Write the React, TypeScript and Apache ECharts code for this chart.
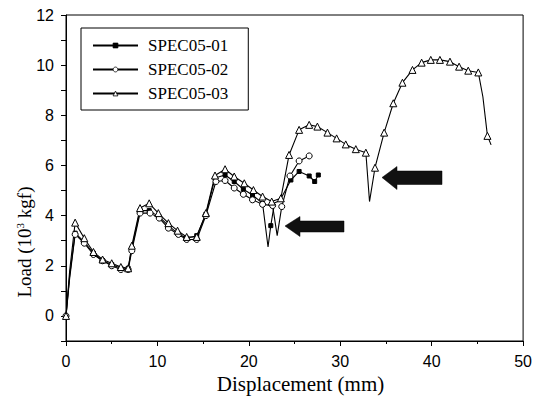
import React, { useEffect, useRef } from "react";
import * as echarts from "echarts";

const seriesNames = ["SPEC05-01", "SPEC05-02", "SPEC05-03"];

const spec01X = [0, 0.4, 1.0, 2.0, 3.0, 4.0, 5.0, 6.0, 6.8, 7.2, 8.1, 9.1, 10.2, 11.2, 12.2, 13.2, 14.3, 15.3, 16.3, 17.4, 18.4, 19.4, 20.4, 21.5, 22.1, 22.4, 22.8, 23.4, 24.6, 25.5, 26.6, 27.2, 27.6];
const spec01Y = [0, 1.6, 3.3, 2.95, 2.5, 2.2, 2.05, 1.9, 1.9, 2.7, 4.2, 4.2, 3.95, 3.6, 3.3, 3.1, 3.2, 4.05, 5.5, 5.62, 5.36, 5.05, 4.82, 4.49, 2.75, 3.6, 4.5, 4.6, 5.42, 5.76, 5.58, 5.36, 5.62];
const spec01NoMarker = [1, 24, 26, 27];

const spec02X = [0, 0.4, 1.0, 2.0, 3.0, 4.0, 5.0, 6.0, 6.8, 7.2, 8.1, 9.2, 10.2, 11.2, 12.3, 13.2, 14.3, 15.3, 16.4, 17.4, 18.4, 19.4, 20.4, 21.5, 22.6, 23.1, 23.6, 24.5, 25.5, 26.6];
const spec02Y = [0, 1.5, 3.25, 2.9, 2.45, 2.2, 2.0, 1.85, 1.85, 2.6, 4.1, 4.1, 3.9, 3.5, 3.25, 3.05, 3.05, 4.0, 5.36, 5.4, 5.1, 4.85, 4.63, 4.45, 4.4, 3.2, 4.36, 5.58, 6.18, 6.38];
const spec02NoMarker = [1, 25];

const spec03X = [0, 0.4, 1.0, 2.0, 3.0, 4.0, 5.0, 6.0, 6.8, 7.2, 8.1, 9.1, 10.1, 11.2, 12.2, 13.2, 14.3, 15.3, 16.3, 17.4, 18.4, 19.5, 20.5, 21.5, 22.5, 23.5, 24.4, 25.5, 26.6, 27.5, 28.6, 29.6, 30.6, 31.7, 32.8, 33.2, 33.8, 34.8, 35.8, 36.8, 37.9, 38.9, 39.9, 40.9, 42.0, 43.0, 44.0, 45.1, 45.6, 46.1, 46.5];
const spec03Y = [0, 1.8, 3.72, 3.1, 2.55, 2.25, 2.1, 1.95, 1.9, 2.8, 4.3, 4.49, 4.1, 3.7, 3.4, 3.15, 3.15, 4.1, 5.6, 5.85, 5.56, 5.29, 5.02, 4.76, 4.56, 4.69, 6.42, 7.42, 7.62, 7.55, 7.31, 7.08, 6.84, 6.65, 6.51, 4.56, 5.91, 7.31, 8.48, 9.3, 9.81, 10.1, 10.21, 10.21, 10.14, 9.94, 9.78, 9.71, 8.74, 7.18, 6.82];
const spec03NoMarker = [1, 35, 48, 50];

const xTickLabels = [0, 10, 20, 30, 40, 50];
const yTickLabels = [0, 2, 4, 6, 8, 10, 12];

function buildData(xs: number[], ys: number[], noMarker: number[]) {
  return xs.map((x, i) =>
    noMarker.includes(i) ? { value: [x, ys[i]], symbol: "none" } : { value: [x, ys[i]] }
  );
}

export default function App() {
  const ref = useRef<HTMLDivElement>(null);

  useEffect(() => {
    if (!ref.current) return;
    const chart = echarts.init(ref.current, null, { renderer: "svg" });
    const serif = "'Liberation Serif', 'Times New Roman', serif";
    const sans = "'Liberation Sans', Arial, sans-serif";
    const lineBase = {
      type: "line",
      lineStyle: { color: "#000", width: 1.1 },
      showSymbol: true,
      z: 3,
    };
    chart.setOption({
      animation: false,
      backgroundColor: "#fff",
      grid: {
        left: 66,
        right: 11,
        top: 15,
        bottom: 64,
        show: true,
        borderColor: "#000",
        borderWidth: 1,
        backgroundColor: "transparent",
      },
      legend: {
        orient: "vertical",
        left: 81,
        top: 28,
        padding: [9, 20, 8, 11],
        itemWidth: 45,
        itemHeight: 6,
        itemGap: 7,
        borderColor: "#000",
        borderWidth: 1,
        backgroundColor: "#fff",
        data: seriesNames,
        itemStyle: { borderWidth: 0.8 },
        textStyle: {
          fontFamily: serif,
          fontSize: 17,
          color: "#000",
          padding: [0, 0, 0, 5],
        },
      },
      xAxis: {
        type: "value",
        min: 0,
        max: 50,
        interval: 10,
        name: "Displacement (mm)",
        nameLocation: "middle",
        nameGap: 29,
        nameTextStyle: { fontFamily: serif, fontSize: 21, color: "#000", padding: [0, 0, 0, 12] },
        axisLine: { show: true, onZero: false, lineStyle: { color: "#000" } },
        axisTick: { show: true, length: 5, lineStyle: { color: "#000" } },
        minorTick: { show: true, splitNumber: 2, length: 3, lineStyle: { color: "#000" } },
        splitLine: { show: false },
        axisLabel: {
          margin: 12,
          fontFamily: sans,
          fontSize: 16,
          color: "#000",
          formatter: (v: number) => (xTickLabels.includes(v) ? String(v) : ""),
        },
      },
      yAxis: {
        type: "value",
        min: -1,
        max: 12,
        interval: 1,
        axisLine: { show: true, onZero: false, lineStyle: { color: "#000" } },
        axisTick: { show: true, length: 5, lineStyle: { color: "#000" } },
        splitLine: { show: false },
        axisLabel: {
          margin: 12,
          fontFamily: sans,
          fontSize: 16,
          color: "#000",
          formatter: (v: number) => (yTickLabels.includes(v) ? String(v) : ""),
        },
      },
      graphic: [
        {
          type: "text",
          x: 24,
          y: 242,
          rotation: Math.PI / 2,
          style: {
            text: "Load (10{sup|3} kgf)",
            fontFamily: serif,
            fontSize: 19,
            fill: "#000",
            align: "center",
            verticalAlign: "middle",
            rich: {
              sup: { fontFamily: serif, fontSize: 11, verticalAlign: "top", padding: [0, 0, 8, 0], fill: "#000" },
            },
          },
        },
        {
          type: "polygon",
          shape: {
            points: [
              [285, 226], [300, 216.5], [300, 221], [344, 221], [344, 232], [300, 232], [300, 236.5],
            ],
          },
          style: { fill: "#111", stroke: "#000", lineWidth: 0.5 },
          z: 10,
        },
        {
          type: "polygon",
          shape: {
            points: [
              [382, 177.5], [397, 166.5], [397, 171], [442, 171], [442, 184.5], [397, 184.5], [397, 189.5],
            ],
          },
          style: { fill: "#111", stroke: "#000", lineWidth: 0.5 },
          z: 10,
        },
      ],
      series: [
        {
          ...lineBase,
          name: seriesNames[0],
          symbol: "rect",
          symbolSize: 4,
          itemStyle: { color: "#000", borderColor: "#000", borderWidth: 1 },
          data: buildData(spec01X, spec01Y, spec01NoMarker),
        },
        {
          ...lineBase,
          name: seriesNames[1],
          symbol: "circle",
          symbolSize: 6,
          itemStyle: { color: "#fff", borderColor: "#000", borderWidth: 1 },
          data: buildData(spec02X, spec02Y, spec02NoMarker),
        },
        {
          ...lineBase,
          name: seriesNames[2],
          symbol: "triangle",
          symbolSize: 7,
          itemStyle: { color: "#fff", borderColor: "#000", borderWidth: 1 },
          data: buildData(spec03X, spec03Y, spec03NoMarker),
        },
      ],
    });
    return () => chart.dispose();
  }, []);

  return <div ref={ref} style={{ width: 535, height: 405, position: "absolute", left: 0, top: 0 }} />;
}
